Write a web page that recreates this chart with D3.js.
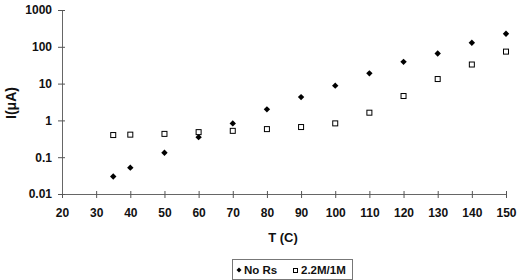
<!DOCTYPE html>
<html>
<head>
<meta charset="utf-8">
<script src="https://cdn.jsdelivr.net/npm/d3@7"></script>
<style>
  body { margin: 0; background: #fff; }
  text { font-family: "Liberation Sans", Arial, sans-serif; font-weight: bold; fill: #111; }
</style>
</head>
<body>
<div id="chart"></div>
<script>
// data
var temps = [35, 40, 50, 60, 70, 80, 90, 100, 110, 120, 130, 140, 150];
var noRs = [0.03, 0.052, 0.132, 0.35, 0.83, 2.0, 4.3, 8.8, 19, 39, 66, 129, 227];
var withRs = [0.40, 0.41, 0.43, 0.48, 0.52, 0.58, 0.66, 0.83, 1.62, 4.6, 13.3, 33, 74];
var xTicks = [20, 30, 40, 50, 60, 70, 80, 90, 100, 110, 120, 130, 140, 150];
var yTicks = [0.01, 0.1, 1, 10, 100, 1000];

var svgWidth = 523;
var svgHeight = 280;

var svg = d3.select("#chart")
    .append("svg")
    .attr("width", svgWidth)
    .attr("height", svgHeight);

var x = d3.scaleLinear().domain([20, 150]).range([62, 506]);
var y = d3.scaleLog().domain([0.01, 1000]).range([194, 10]);

// x axis
var xAxis = svg.append("g")
    .attr("transform", "translate(0," + y(0.01) + ")")
    .call(d3.axisBottom(x).tickValues(xTicks).tickSize(4).tickFormat(d3.format("d")));
xAxis.select(".domain").attr("stroke", "#666");
xAxis.selectAll(".tick line").attr("stroke", "#555").attr("y1", -3);
xAxis.selectAll(".tick text").attr("dy", 0).attr("y", 23).style("font-size", "12px");

// y axis
var yAxis = svg.append("g")
    .attr("transform", "translate(" + x(20) + ",0)")
    .call(d3.axisLeft(y).tickValues(yTicks).tickSize(4)
        .tickFormat(function(d) { return d < 1 ? String(d) : d3.format("d")(d); }));
yAxis.select(".domain").attr("stroke", "#666");
yAxis.selectAll(".tick line").attr("stroke", "#555").attr("x1", 3);
yAxis.selectAll(".tick text").attr("x", -10).style("font-size", "12px");

// axis titles
svg.append("text")
    .attr("x", 283)
    .attr("y", 242)
    .attr("text-anchor", "middle")
    .style("font-size", "13px")
    .text("T (C)");

svg.append("text")
    .attr("transform", "translate(16,103) rotate(-90)")
    .attr("text-anchor", "middle")
    .style("font-size", "14px")
    .text("I(μA)");

// markers
var diamond = d3.symbol().type(d3.symbolDiamond2).size(26);

svg.append("g").selectAll("path")
    .data(temps)
    .enter()
    .append("path")
    .attr("d", diamond)
    .attr("transform", (d, i) => "translate(" + x(d) + "," + y(noRs[i]) + ")")
    .attr("fill", "#000");

svg.append("g").selectAll("rect")
    .data(temps)
    .enter()
    .append("rect")
    .attr("x", d => x(d) - 2.5)
    .attr("y", (d, i) => y(withRs[i]) - 2.5)
    .attr("width", 5)
    .attr("height", 5)
    .attr("fill", "#fff")
    .attr("stroke", "#000")
    .attr("stroke-width", 1);

// legend
var legend = svg.append("g");
legend.append("rect")
    .attr("x", 232.5)
    .attr("y", 259.5)
    .attr("width", 120)
    .attr("height", 20)
    .attr("fill", "#fff")
    .attr("stroke", "#777");
legend.append("path")
    .attr("d", d3.symbol().type(d3.symbolDiamond2).size(16))
    .attr("transform", "translate(239,270)")
    .attr("fill", "#000");
legend.append("text")
    .attr("x", 244)
    .attr("y", 274)
    .style("font-size", "11.5px")
    .text("No Rs");
legend.append("rect")
    .attr("x", 293.5)
    .attr("y", 268.5)
    .attr("width", 4)
    .attr("height", 4)
    .attr("fill", "#fff")
    .attr("stroke", "#000");
legend.append("text")
    .attr("x", 301)
    .attr("y", 274)
    .style("font-size", "11.5px")
    .text("2.2M/1M");
</script>
</body>
</html>
